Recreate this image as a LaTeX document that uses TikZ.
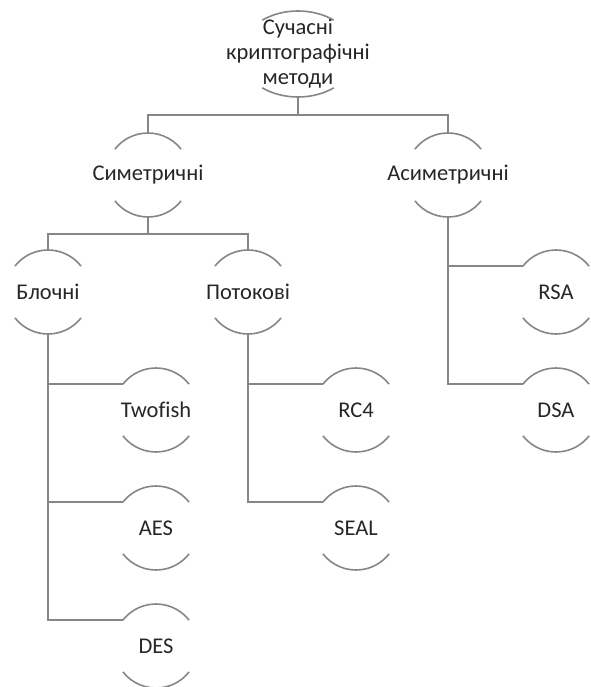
\documentclass[tikz,border=0pt]{standalone}
\usepackage{fontspec}
\setmainfont{Carlito}[Ligatures=NoCommon]
\usetikzlibrary{shapes.geometric}

\begin{document}
\begin{tikzpicture}[x=1pt,y=1pt]
	\tikzstyle{every node}=[text=black!85,font=\fontsize{22.5}{25}\selectfont,inner sep=0pt,outer sep=0pt]
	\tikzstyle{arcnode}=[circle,minimum size=84pt]
	\tikzstyle{rootnode}=[ellipse,minimum width=116pt,minimum height=86pt]
	\tikzstyle{arcline}=[draw=gray!95,line width=1.6pt]
	\tikzstyle{link}=[draw=gray!95,line width=1.6pt]
	\useasboundingbox (0,0) rectangle (590,-687);
	% root
	\node[rootnode,label={[align=center]center:Сучасні\\криптографічні\\методи}] (root) at (298,-54) {};
	% first level
	\node[arcnode,label=center:Симетричні] (sym) at (148,-175) {};
	\node[arcnode,label=center:Асиметричні] (asym) at (448,-175) {};
	% second level
	\node[arcnode,label=center:Блочні] (blk) at (48,-292) {};
	\node[arcnode,label=center:Потокові] (str) at (248,-292) {};
	\node[arcnode,label=center:RSA] (rsa) at (556,-292) {};
	\node[arcnode,label=center:DSA] (dsa) at (556,-410) {};
	% leaves
	\node[arcnode,label=center:Twofish] (twofish) at (156,-410) {};
	\node[arcnode,label=center:AES] (aes) at (156,-528) {};
	\node[arcnode,label=center:DES] (des) at (156,-646) {};
	\node[arcnode,label=center:RC4] (rc) at (356,-410) {};
	\node[arcnode,label=center:SEAL] (seal) at (356,-528) {};
	% arcs
	\draw[arcline] (root.center) ++(52:58 and 43) arc[start angle=52,end angle=128,x radius=58,y radius=43];
	\draw[arcline] (root.center) ++(232:58 and 43) arc[start angle=232,end angle=308,x radius=58,y radius=43];
	\foreach \n in {sym,asym,blk,str,rsa,dsa,twofish,aes,des,rc,seal} {
		\draw[arcline] (\n.38) arc[start angle=38,end angle=142,radius=42];
		\draw[arcline] (\n.218) arc[start angle=218,end angle=322,radius=42];
	}
	% connectors
	\draw[link] (root.south) -- ++(0,-18) -| (sym.north);
	\draw[link] (root.south) -- ++(0,-18) -| (asym.north);
	\draw[link] (sym.south) -- ++(0,-17) -| (blk.north);
	\draw[link] (sym.south) -- ++(0,-17) -| (str.north);
	\draw[link] (blk.south) |- (twofish.142);
	\draw[link] (blk.south) |- (aes.142);
	\draw[link] (blk.south) |- (des.142);
	\draw[link] (str.south) |- (rc.142);
	\draw[link] (str.south) |- (seal.142);
	\draw[link] (asym.south) |- (rsa.142);
	\draw[link] (asym.south) |- (dsa.142);
\end{tikzpicture}
\end{document}
